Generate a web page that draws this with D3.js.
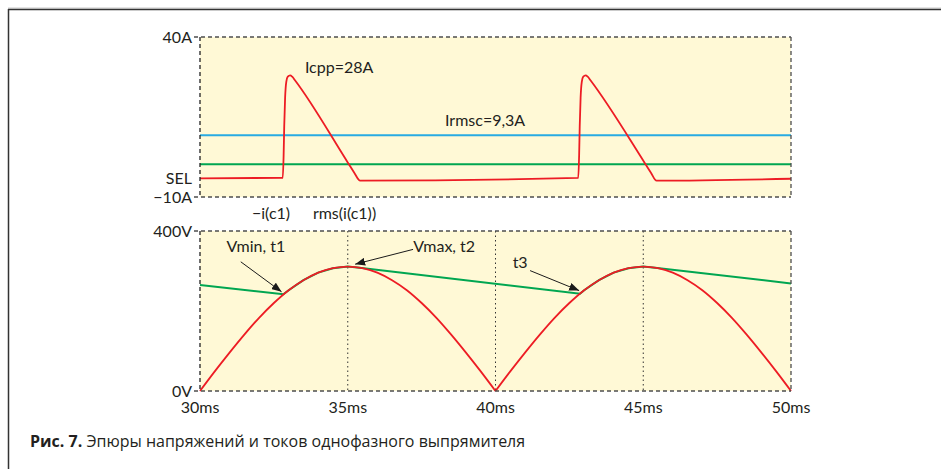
<!DOCTYPE html>
<html>
<head>
<meta charset="utf-8">
<script src="https://cdn.jsdelivr.net/npm/d3@7/dist/d3.min.js"></script>
<style>
  html, body { margin: 0; padding: 0; background: #fff; }
  svg { display: block; }
  text { font-family: Lato, "Open Sans", sans-serif; fill: #231f20; }
</style>
</head>
<body>
<svg id="chart" width="941" height="469"></svg>
<script>
// ---- time axis (ms) ----
const timeTicks = [30, 35, 40, 45, 50];
const timeTickLabels = ["30ms", "35ms", "40ms", "45ms", "50ms"];
const timeGrid = [35, 40, 45];

// ---- current plot ----
const currentTicks = [40, -10];
const currentTickLabels = ["40A", "\u221210A"];
// -i(c1): capacitor current, A
const icTime = [30, 32.80, 32.83, 32.85, 32.88, 32.92, 32.97, 33.05, 33.12, 33.22, 35.02, 35.22, 35.42,
                42.80, 42.83, 42.85, 42.88, 42.92, 42.97, 43.05, 43.12, 43.22, 45.06, 45.26, 45.45, 50];
const icValue = [-4.2, -4.0, 3, 12, 21, 26, 27.6, 28, 27.6, 26.4, 0.5, -2.4, -4.9,
                 -4.0, 3, 12, 21, 26, 27.6, 28, 27.6, 26.4, 0.5, -2.4, -4.9, -4.3];
// rms(i(c1)), A
const rmsTime = [30, 50];
const rmsValue = [9.3, 9.3];
// mean current trace, A
const avgTime = [30, 50];
const avgValue = [0.2, 0.2];

// ---- voltage plot ----
const voltTicks = [400, 0];
const voltTickLabels = ["400V", "0V"];
// rectified mains voltage, V (two half-waves)
const halfWave1Time = [30, 30.5, 31, 31.5, 32, 32.5, 33, 33.5, 34, 34.5, 35, 35.5, 36, 36.5, 37, 37.5, 38, 38.5, 39, 39.5, 40];
const halfWave1Value = [0, 49, 96, 141, 183, 220, 252, 277, 296, 307, 311, 307, 296, 277, 252, 220, 183, 141, 96, 49, 0];
const halfWave2Time = [40, 40.5, 41, 41.5, 42, 42.5, 43, 43.5, 44, 44.5, 45, 45.5, 46, 46.5, 47, 47.5, 48, 48.5, 49, 49.5, 50];
const halfWave2Value = [0, 49, 96, 141, 183, 220, 252, 277, 296, 307, 311, 307, 296, 277, 252, 220, 183, 141, 96, 49, 0];
// capacitor voltage, V
const vcTime = [30, 32.82, 33, 33.5, 34, 34.5, 35, 35.4, 42.86, 43, 43.5, 44, 44.5, 45, 45.4, 50];
const vcValue = [265, 242, 252, 277, 296, 307, 311, 308, 243, 252, 277, 296, 307, 311, 308, 269];

// ---- annotations (anchored in data units) ----
const currentNotes = [
  { text: "Icpp=28A", t: 33.55, v: 30.7 },
  { text: "Irmsc=9,3A", t: 38.29, v: 14.1 }
];
const legendLabels = [
  { text: "\u2212i(c1)", t: 31.76 },
  { text: "rms(i(c1))", t: 33.82 }
];
const voltNotes = [
  { text: "Vmin, t1", t: 30.9, v: 361, from: [31.38, 323], to: [32.76, 248] },
  { text: "Vmax, t2", t: 37.22, v: 361, from: [37.21, 354], to: [35.25, 317] },
  { text: "t3", t: 40.58, v: 321, from: [41.17, 301], to: [42.83, 251] }
];
const caption = { bold: "Рис. 7.", rest: " Эпюры напряжений и токов однофазного выпрямителя" };

// ---- layout ----
const W = 941, H = 469;
const plotLeft = 200, plotRight = 791;
const topPlot = { top: 37, bottom: 197 };
const botPlot = { top: 231, bottom: 391 };
const COL = { red: "#ed1c24", blue: "#29abe2", green: "#00a651", fill: "#fff9d6", frame: "#4d4d4d" };

const svg = d3.select("#chart");

const x = d3.scaleLinear().domain([30, 50]).range([plotLeft, plotRight]);
const yI = d3.scaleLinear().domain([-10, 40]).range([topPlot.bottom, topPlot.top]);
const yV = d3.scaleLinear().domain([0, 400]).range([botPlot.bottom, botPlot.top]);

// page frame
svg.append("line").attr("x1", 8).attr("x2", W).attr("y1", 8).attr("y2", 8)
  .attr("stroke", "#c8c8c8").attr("stroke-width", 1);
svg.append("line").attr("x1", 8).attr("x2", W).attr("y1", 9.5).attr("y2", 9.5)
  .attr("stroke", "#333").attr("stroke-width", 1.5);
svg.append("line").attr("x1", 8.5).attr("x2", 8.5).attr("y1", 9).attr("y2", H)
  .attr("stroke", "#333").attr("stroke-width", 1.5);

// arrowhead
svg.append("defs").append("marker")
  .attr("id", "arrow").attr("viewBox", "0 0 10 8")
  .attr("refX", 10).attr("refY", 4)
  .attr("markerWidth", 10).attr("markerHeight", 8)
  .attr("markerUnits", "userSpaceOnUse").attr("orient", "auto")
  .append("path").attr("d", "M0,0 L10,4 L0,8 Z").attr("fill", "#1a1a1a");

function plotFrame(yScale, box) {
  const g = svg.append("g");
  g.append("rect")
    .attr("x", x(30)).attr("y", box.top)
    .attr("width", x(50) - x(30)).attr("height", box.bottom - box.top)
    .attr("fill", COL.fill);
  return g;
}

function dashedBorder(g, box) {
  const dash = "4,3";
  g.append("line").attr("x1", x(30) - 6).attr("x2", x(50)).attr("y1", box.top).attr("y2", box.top)
    .attr("stroke", COL.frame).attr("stroke-width", 1.3).attr("stroke-dasharray", dash);
  g.append("line").attr("x1", x(30) - 6).attr("x2", x(50)).attr("y1", box.bottom).attr("y2", box.bottom)
    .attr("stroke", COL.frame).attr("stroke-width", 1.3).attr("stroke-dasharray", dash);
  g.append("line").attr("x1", x(30)).attr("x2", x(30)).attr("y1", box.top).attr("y2", box.bottom)
    .attr("stroke", "#222").attr("stroke-width", 1.3).attr("stroke-dasharray", dash);
  g.append("line").attr("x1", x(50)).attr("x2", x(50)).attr("y1", box.top).attr("y2", box.bottom)
    .attr("stroke", COL.frame).attr("stroke-width", 1.3).attr("stroke-dasharray", dash);
}

const lineOf = (ys, curve) => d3.line().x(d => x(d[0])).y(d => ys(d[1])).curve(curve || d3.curveLinear);
const zip = (a, b) => a.map((t, i) => [t, b[i]]);

// ===== current plot =====
const gI = plotFrame(yI, topPlot);
gI.append("path").datum(zip(avgTime, avgValue)).attr("d", lineOf(yI))
  .attr("fill", "none").attr("stroke", COL.green).attr("stroke-width", 2);
gI.append("path").datum(zip(rmsTime, rmsValue)).attr("d", lineOf(yI))
  .attr("fill", "none").attr("stroke", COL.blue).attr("stroke-width", 2);
gI.append("path").datum(zip(icTime, icValue)).attr("d", lineOf(yI, d3.curveMonotoneX))
  .attr("fill", "none").attr("stroke", COL.red).attr("stroke-width", 1.8).attr("stroke-linejoin", "round");
dashedBorder(gI, topPlot);

// y labels
const FS = 16;
svg.selectAll(".ilab").data(currentTicks).enter().append("text")
  .attr("x", x(30) - 8).attr("y", d => yI(d)).attr("dy", "0.36em")
  .attr("text-anchor", "end").attr("font-size", FS)
  .text((d, i) => currentTickLabels[i]);
svg.append("text").attr("x", x(30) - 8).attr("y", yI(icValue[0])).attr("dy", "0.36em")
  .attr("text-anchor", "end").attr("font-size", FS).text("SEL");

svg.selectAll(".inote").data(currentNotes).enter().append("text")
  .attr("x", d => x(d.t)).attr("y", d => yI(d.v)).attr("dy", "0.36em")
  .attr("font-size", FS).text(d => d.text);

svg.selectAll(".leg").data(legendLabels).enter().append("text")
  .attr("x", d => x(d.t)).attr("y", 213).attr("dy", "0.36em")
  .attr("font-size", FS).text(d => d.text);

// ===== voltage plot =====
const gV = plotFrame(yV, botPlot);
gV.selectAll(".grid").data(timeGrid).enter().append("line")
  .attr("x1", d => x(d)).attr("x2", d => x(d))
  .attr("y1", botPlot.top).attr("y2", botPlot.bottom)
  .attr("stroke", "#333").attr("stroke-width", 1).attr("stroke-dasharray", "1.5,3");
gV.append("path").datum(zip(vcTime, vcValue)).attr("d", lineOf(yV))
  .attr("fill", "none").attr("stroke", COL.green).attr("stroke-width", 2);
[zip(halfWave1Time, halfWave1Value), zip(halfWave2Time, halfWave2Value)].forEach(hw => {
  gV.append("path").datum(hw).attr("d", lineOf(yV, d3.curveMonotoneX))
    .attr("fill", "none").attr("stroke", COL.red).attr("stroke-width", 1.8);
});
dashedBorder(gV, botPlot);

svg.selectAll(".vlab").data(voltTicks).enter().append("text")
  .attr("x", x(30) - 8).attr("y", d => yV(d)).attr("dy", "0.36em")
  .attr("text-anchor", "end").attr("font-size", FS)
  .text((d, i) => voltTickLabels[i]);

svg.selectAll(".tlab").data(timeTicks).enter().append("text")
  .attr("x", d => x(d)).attr("y", botPlot.bottom + 16).attr("dy", "0.36em")
  .attr("text-anchor", "middle").attr("font-size", FS)
  .text((d, i) => timeTickLabels[i]);

voltNotes.forEach(n => {
  svg.append("text").attr("x", x(n.t)).attr("y", yV(n.v)).attr("dy", "0.36em")
    .attr("font-size", FS).text(n.text);
  svg.append("line")
    .attr("x1", x(n.from[0])).attr("y1", yV(n.from[1]))
    .attr("x2", x(n.to[0])).attr("y2", yV(n.to[1]))
    .attr("stroke", "#1a1a1a").attr("stroke-width", 1)
    .attr("marker-end", "url(#arrow)");
});

// ===== caption =====
const cap = svg.append("text").attr("x", 30).attr("y", 447).attr("font-size", 16)
  .style("font-family", "'Open Sans', sans-serif");
cap.append("tspan").attr("font-weight", "bold").text(caption.bold);
cap.append("tspan").text(caption.rest);
</script>
</body>
</html>
